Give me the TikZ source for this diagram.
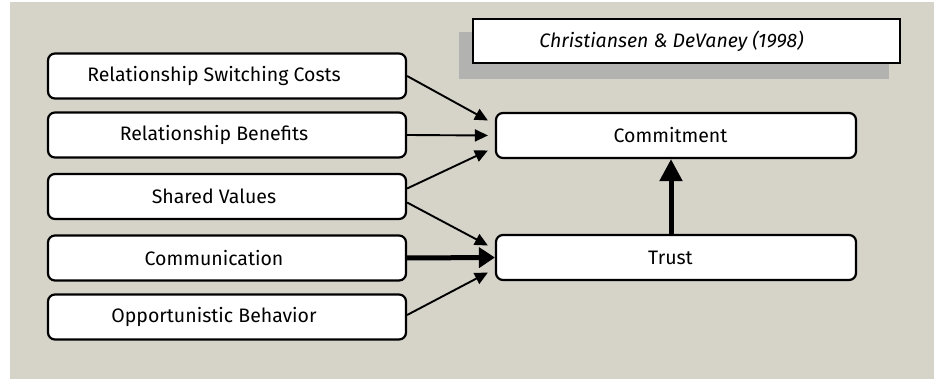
\documentclass[tikz,border=0pt]{standalone}
\usepackage{fontspec}
\setmainfont{Fira Sans}
\usepackage{xcolor}
\definecolor{PaperBeige}{RGB}{214,211,201}
\definecolor{ShadowGray}{RGB}{178,178,176}
\usetikzlibrary{math,arrows.meta}
\tikzset{%
  factor box/.style={draw=black, line width=2.2pt, fill=white, rounded corners=7pt,
    minimum width=358pt, minimum height=45pt, inner sep=0pt,
    font=\fontsize{19.5}{22}\selectfont},
  % moves the label left of the box centre by half the given amount
  text left/.style={execute at begin node={\hspace*{-#1}}},
  thin link/.style={line width=1.9pt, -{Triangle[length=13pt,width=12pt]}},
  strong link/.style={line width=5pt, -{Triangle[length=16pt,width=20pt]}}
}

\begin{document}
\begin{tikzpicture}[x=1pt,y=-1pt]
    \tikzmath{
      \lx=227; % left column
      \rx=676; % right column
      \rw=360;
    }
    \useasboundingbox (0,0) rectangle (934,379);
    \fill[PaperBeige] (10,2) rectangle (934,379);
    % Source:
    \fill[ShadowGray] (459,32) rectangle (889,79);
    \node[draw=black, line width=2.2pt, fill=white, minimum width=427pt,
      minimum height=44pt, inner sep=0pt, text left=30pt,
      font=\fontsize{19.5}{22}\selectfont\itshape] (cite) at (686.5,41)
      {Christiansen \& DeVaney (1998)};
    % Antecedents:
    \begin{scope}[every node/.style={text left=26pt}]
      \node[factor box] (rsc) at (\lx,76) {Relationship Switching Costs};
      \node[factor box] (rb) at (\lx,135) {Relationship Benefits};
      \node[factor box] (sv) at (\lx,196.5) {Shared Values};
      \node[factor box] (comm) at (\lx,258) {Communication};
      \node[factor box] (opp) at (\lx,317) {Opportunistic Behavior};
    \end{scope}
    % Mediators:
    \node[factor box, minimum width=\rw, text left=11pt] (commit) at (\rx,135.5) {Commitment};
    \node[factor box, minimum width=\rw, text left=11pt] (trust) at (\rx,257.5) {Trust};
    % Links:
    \draw[thin link] (rsc.east) -- ([xshift=-7pt,yshift=15pt]commit.west);
    \draw[thin link] (rb.east) -- ([xshift=-7pt]commit.west);
    \draw[thin link] ([yshift=8pt]sv.east) -- ([xshift=-7pt,yshift=-15pt]commit.west);
    \draw[thin link] ([yshift=-6pt]sv.east) -- ([xshift=-7pt,yshift=12pt]trust.west);
    \draw[strong link] (comm.east) -- (trust.west);
    \draw[thin link] ([yshift=2pt]opp.east) -- ([xshift=-7pt,yshift=-15pt]trust.west);
    \draw[line width=5pt, -{Triangle[length=22pt,width=22pt]}]
      ([xshift=-5pt]trust.north) -- ([xshift=-5pt]commit.south);
  \end{tikzpicture}
\end{document}
